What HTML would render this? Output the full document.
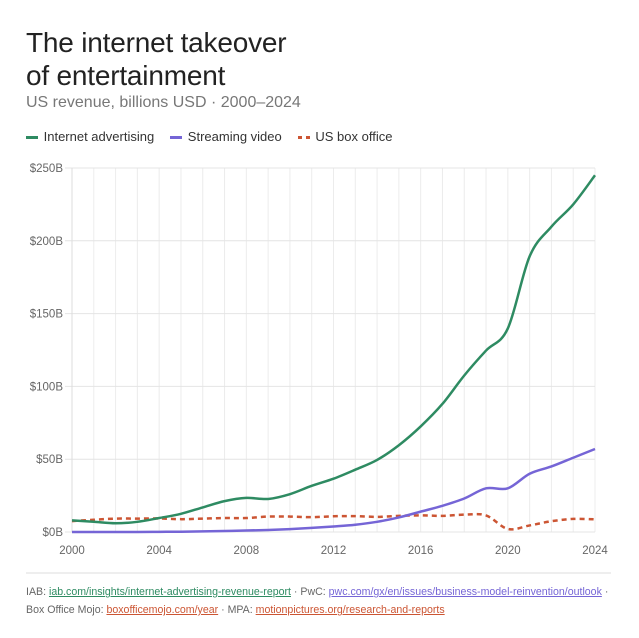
<!DOCTYPE html>
<html><head><meta charset="utf-8"><style>
body{margin:0;background:#fff;font-family:"Liberation Sans",sans-serif;}
.t{position:absolute;left:26px;top:26px;font-size:28px;line-height:33px;color:#222;font-weight:normal;letter-spacing:-0.2px}
.s{position:absolute;left:26px;top:94px;font-size:16px;color:#777}
.lg{position:absolute;left:26px;top:129px;font-size:13px;color:#333}
.lg span{margin-right:16px}
.f{position:absolute;left:26px;top:583px;width:592px;font-family:"Liberation Sans",sans-serif;font-size:10.6px;line-height:18px;color:#666}
.f a{text-decoration:underline;font-family:"Liberation Sans",sans-serif}
</style></head><body>
<div class="t">The internet takeover<br>of entertainment</div>
<div class="s">US revenue, billions USD · 2000–2024</div>
<div class="lg"><span><svg width="14" height="4" style="vertical-align:middle"><rect width="12" height="3" fill="#2e8b62"/></svg> Internet advertising</span><span><svg width="14" height="4" style="vertical-align:middle"><rect width="12" height="3" fill="#7565d6"/></svg> Streaming video</span><span><svg width="14" height="4" style="vertical-align:middle"><rect width="4" height="3" fill="#cc5533"/><rect x="8" width="4" height="3" fill="#cc5533"/></svg> US box office</span></div>
<svg id="c" width="639" height="638" style="position:absolute;left:0;top:0"></svg>
<div class="f">IAB: <a style="color:#2e8b62">iab.com/insights/internet-advertising-revenue-report</a> · PwC: <a style="color:#7565d6">pwc.com/gx/en/issues/business-model-reinvention/outlook</a> · Box Office Mojo: <a style="color:#cc5533">boxofficemojo.com/year</a> · MPA: <a style="color:#cc5533">motionpictures.org/research-and-reports</a></div>
<script>
var X0=72,X1=595,Y0=532,Y1=168;
function x(i){return X0+(X1-X0)*i/24}
function y(v){return Y0-(Y0-Y1)*v/250}
var s='';
for(var i=0;i<=24;i++)s+='<line x1="'+x(i)+'" x2="'+x(i)+'" y1="'+Y1+'" y2="'+Y0+'" stroke="#ececec"/>';
for(var v=0;v<=250;v+=50){s+='<line x1="'+(X0-7)+'" x2="'+X1+'" y1="'+y(v)+'" y2="'+y(v)+'" stroke="#e4e4e4"/>';
s+='<text x="'+(X0-9)+'" y="'+(y(v)+4)+'" text-anchor="end" font-size="11.5" fill="#666" font-family="Liberation Sans">$'+v+'B</text>';}
s+='<line x1="'+X0+'" x2="'+X0+'" y1="'+Y1+'" y2="'+Y0+'" stroke="#ddd"/>';
for(var i=0;i<=24;i+=4)s+='<text x="'+x(i)+'" y="554" text-anchor="middle" font-size="11.5" fill="#666" font-family="Liberation Sans">'+(2000+i)+'</text>';
s+='<line x1="26" x2="611" y1="573" y2="573" stroke="#ddd"/>';
function path(d){var p=d.map(function(v,i){return[x(i),y(v)]});var o='M'+p[0];
for(var i=0;i<p.length-1;i++){var a=p[Math.max(i-1,0)],b=p[i],c=p[i+1],e=p[Math.min(i+2,p.length-1)];
o+=' C'+(b[0]+(c[0]-a[0])/6)+','+(b[1]+(c[1]-a[1])/6)+' '+(c[0]-(e[0]-b[0])/6)+','+(c[1]-(e[1]-b[1])/6)+' '+c;}return o}
var ad=[8,7,6,7,9.6,12.5,16.9,21.2,23.4,22.7,26,31.7,36.6,42.8,49.5,59.6,72.5,88,107.5,124.6,139.8,189.3,209.7,225,245];
var st=[0,0,0,0,0.1,0.2,0.4,0.7,1,1.4,2,2.8,3.8,5,7,10,14,18,23,30,30,40,45,51,57];
var bo=[7.5,8.4,9.2,9.2,9.3,8.8,9.2,9.6,9.6,10.6,10.6,10.2,10.8,10.9,10.4,11.1,11.4,11.1,11.9,11.4,2.1,4.5,7.4,9,8.7];
s+='<path d="'+path(bo)+'" fill="none" stroke="#cc5533" stroke-width="2.5" stroke-dasharray="5,4"/>';
s+='<path d="'+path(st)+'" fill="none" stroke="#7565d6" stroke-width="2.5"/>';
s+='<path d="'+path(ad)+'" fill="none" stroke="#2e8b62" stroke-width="2.5"/>';
document.getElementById('c').innerHTML=s;
</script>
</body></html>
